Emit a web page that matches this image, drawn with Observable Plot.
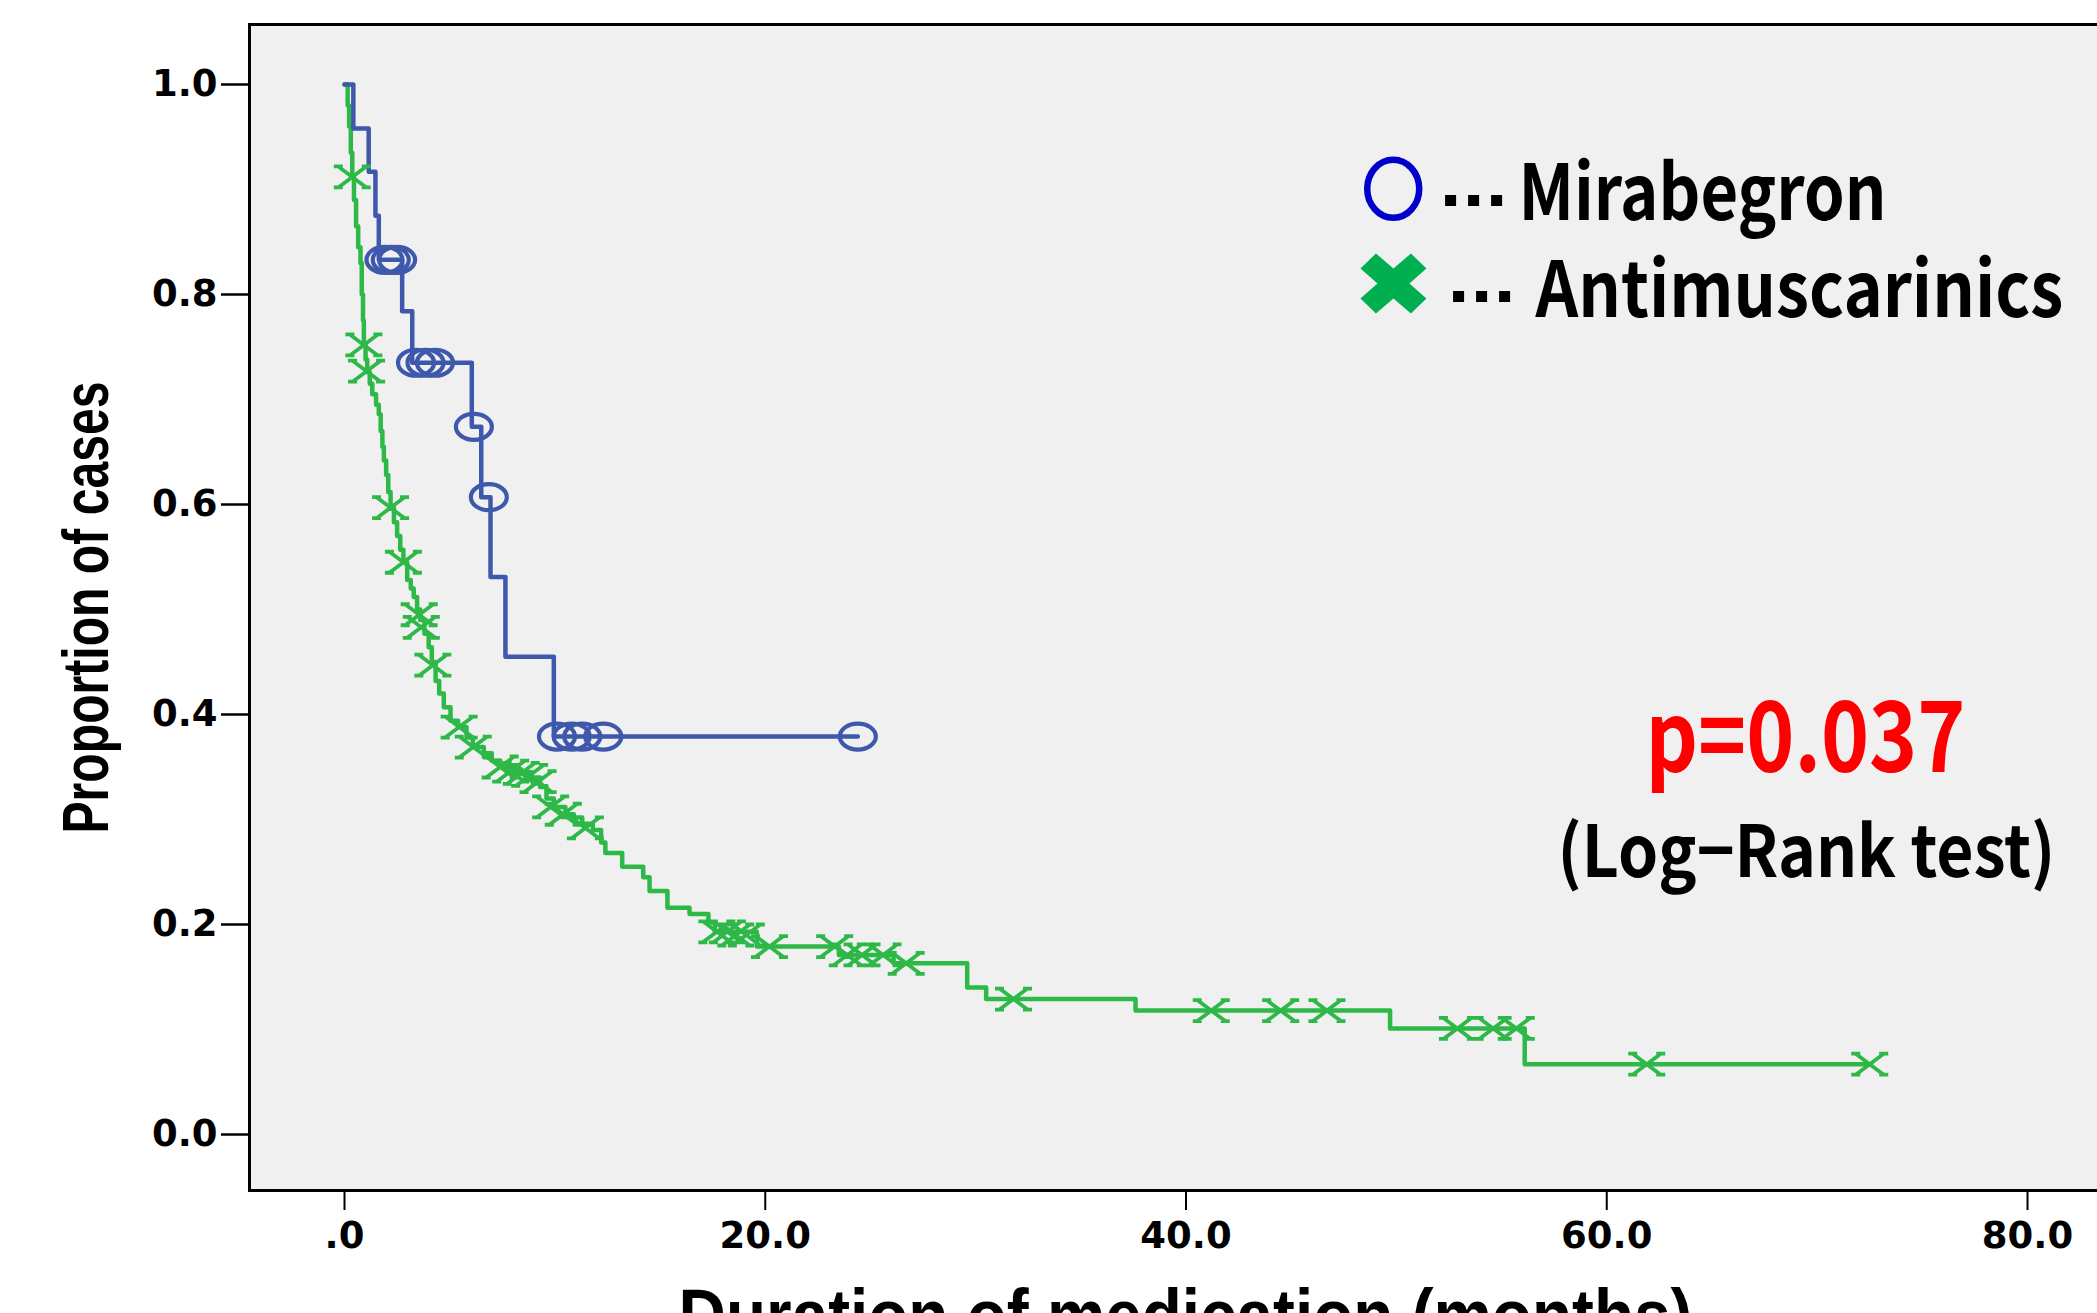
<!DOCTYPE html>
<html><head><meta charset="utf-8">
<script src="https://cdn.jsdelivr.net/npm/d3@7"></script>
<script src="https://cdn.jsdelivr.net/npm/@observablehq/plot@0.6"></script>
<style>
html,body{margin:0;padding:0;background:#fff;overflow:hidden;width:2097px;height:1313px;}
#chart svg{display:block;}
</style></head><body><div id="chart"></div>
<script>
// ---- Data ----
const seriesNames = ["Mirabegron", "Antimuscarinics"];
const seriesColors = ["#3e58ac", "#2eb848"];
const legendColors = ["#0000cc", "#00b050"];

// Mirabegron Kaplan-Meier steps (months, proportion)
const mirTime = [0, 0.42, 1.15, 1.47, 1.63, 2.74, 3.22, 6.05, 6.5, 6.94, 7.65, 9.95, 24.4];
const mirSurv = [1.0, 0.958, 0.917, 0.875, 0.833, 0.784, 0.735, 0.674, 0.607, 0.531, 0.455, 0.379, 0.379];
// Mirabegron censored cases
const mirCensorTime = [1.9, 2.2, 2.5, 3.4, 3.85, 4.3, 6.15, 6.86, 10.1, 10.8, 11.3, 12.3, 24.4];
const mirCensorSurv = [0.833, 0.833, 0.833, 0.735, 0.735, 0.735, 0.674, 0.607, 0.379, 0.379, 0.379, 0.379, 0.379];

// Antimuscarinics Kaplan-Meier steps (months, proportion)
const antTime = [0, 0.15, 0.22, 0.3, 0.37, 0.45, 0.55, 0.65, 0.76, 0.82, 0.88, 0.92, 1.0, 1.08, 1.2, 1.32, 1.5, 1.63,
  1.72, 1.8, 1.87, 1.98, 2.08, 2.19, 2.35, 2.5, 2.65, 2.8, 2.98, 3.15, 3.29, 3.45, 3.6, 3.8, 4.0, 4.15, 4.33, 4.5,
  4.72, 5.04, 5.4, 5.8, 6.1, 6.62, 7.0, 7.41, 8.0, 8.9, 9.3, 9.6, 9.95, 10.5, 10.9, 11.3, 11.8, 12.2, 12.4, 13.2,
  14.2, 14.5, 15.35, 16.4, 17.3, 17.6, 19.6, 23.5, 26.1, 29.6, 30.5, 37.6, 49.7, 56.1, 72.5];
const antSurv = [1.0, 0.98, 0.96, 0.935, 0.912, 0.89, 0.865, 0.845, 0.83, 0.80, 0.775, 0.752, 0.738, 0.726, 0.715, 0.705, 0.695, 0.686,
  0.67, 0.655, 0.642, 0.628, 0.612, 0.597, 0.583, 0.57, 0.557, 0.545, 0.528, 0.52, 0.512, 0.50, 0.49, 0.477, 0.464, 0.45, 0.432, 0.42,
  0.407, 0.394, 0.388, 0.378, 0.369, 0.363, 0.356, 0.35, 0.345, 0.34, 0.331, 0.32, 0.312, 0.305, 0.302, 0.296, 0.29, 0.278, 0.268, 0.255,
  0.245, 0.232, 0.216, 0.21, 0.202, 0.193, 0.179, 0.171, 0.163, 0.14, 0.129, 0.118, 0.101, 0.067, 0.067];
// Antimuscarinics censored cases
const antCensorTime = [0.37, 0.92, 1.05, 2.19, 2.8, 3.55, 3.65, 4.2, 5.45, 6.12, 7.4, 7.9, 8.4, 8.8, 9.2, 9.8, 10.4, 11.45,
  17.7, 18.2, 18.6, 19.1, 20.2, 23.3, 23.9, 24.6, 25.6, 26.7, 31.8, 41.2, 44.5, 46.7, 52.9, 54.6, 55.7, 61.9, 72.5];
const antCensorSurv = [0.912, 0.752, 0.727, 0.597, 0.545, 0.495, 0.483, 0.447, 0.388, 0.369, 0.35, 0.346, 0.344, 0.342, 0.336, 0.312, 0.305, 0.292,
  0.193, 0.193, 0.19, 0.19, 0.179, 0.179, 0.171, 0.171, 0.171, 0.163, 0.129, 0.118, 0.118, 0.118, 0.101, 0.101, 0.101, 0.067, 0.067];

const xTicks = [0, 20, 40, 60, 80];
const xTickLabels = [".0", "20.0", "40.0", "60.0", "80.0"];
const yTicks = [0, 0.2, 0.4, 0.6, 0.8, 1.0];
const yTickLabels = ["0.0", "0.2", "0.4", "0.6", "0.8", "1.0"];

const xTitle = "Duration of medication (months)";
const yTitle = "Proportion of cases";
const pText = "p=0.037";
const testText = "(Log\u2212Rank test)";

// ---- Build tables ----
const mir = mirTime.map((t, i) => ({t, s: mirSurv[i]}));
const ant = antTime.map((t, i) => ({t, s: antSurv[i]}));
const mirC = mirCensorTime.map((t, i) => ({t, s: mirCensorSurv[i]}));
const antC = antCensorTime.map((t, i) => ({t, s: antCensorSurv[i]}));
const xLab = new Map(xTicks.map((d, i) => [d, xTickLabels[i]]));
const yLab = new Map(yTicks.map((d, i) => [d, yTickLabels[i]]));

// ---- Symbols ----
const ellipse = (rx, ry) => ({draw(c) {
  const k = 0.5523;
  c.moveTo(rx, 0);
  c.bezierCurveTo(rx, k * ry, k * rx, ry, 0, ry);
  c.bezierCurveTo(-k * rx, ry, -rx, k * ry, -rx, 0);
  c.bezierCurveTo(-rx, -k * ry, -k * rx, -ry, 0, -ry);
  c.bezierCurveTo(k * rx, -ry, rx, -k * ry, rx, 0);
  c.closePath();
}});
const censorCross = {draw(c) {
  const w = 14, h = 10.5, s = 4.5;
  c.moveTo(-w, -h); c.lineTo(w, h);
  c.moveTo(-w, h); c.lineTo(w, -h);
  for (const [x, y] of [[-w, -h], [w, -h], [-w, h], [w, h]]) { c.moveTo(x - s, y); c.lineTo(x + s, y); }
}};
const heavyX = {draw(c) {
  const p = [[-33,-15],[-17.5,-30],[0,-15],[17.5,-30],[33,-15],[16,0],[33,15],[17.5,30],[0,15],[-17.5,30],[-33,15],[-16,0]];
  c.moveTo(p[0][0], p[0][1]);
  for (const q of p.slice(1)) c.lineTo(q[0], q[1]);
  c.closePath();
}};
// leader "･･･" between legend marker and label
const leaderDots = {draw(c) {
  const d = 11;
  for (const o of [-23, 0, 23]) c.rect(o - d / 2, -d / 2, d, d);
}};

const cjk = "'Noto Sans CJK JP', 'Noto Sans', sans-serif";

const chart = Plot.plot({
  width: 2110, height: 1370,
  marginLeft: 249, marginRight: 0, marginTop: 24, marginBottom: 180,
  x: {domain: [-4.516, 83.945], axis: null},
  y: {domain: [-0.05333, 1.05714], axis: null},
  style: {background: "transparent", color: "black", maxWidth: "none", overflow: "visible"},
  marks: [
    Plot.frame({fill: "#f0f0f0", stroke: "none"}),
    Plot.line(ant, {x: "t", y: "s", curve: "step-after", stroke: seriesColors[1], strokeWidth: 4.5}),
    Plot.line(mir, {x: "t", y: "s", curve: "step-after", stroke: seriesColors[0], strokeWidth: 4.5}),
    Plot.dot(antC, {x: "t", y: "s", symbol: censorCross, r: 10, fill: "none", stroke: seriesColors[1], strokeWidth: 3.8}),
    Plot.dot(mirC, {x: "t", y: "s", symbol: ellipse(18, 13), r: 10, fill: "none", stroke: seriesColors[0], strokeWidth: 4.2}),
    Plot.frame({stroke: "black", strokeWidth: 3}),
    Plot.axisX({ticks: xTicks, tickFormat: d => xLab.get(d), tickSize: 20, tickPadding: 11, strokeWidth: 2,
      fontSize: 37, fontWeight: "bold", fontFamily: "DejaVu Sans", label: null}),
    Plot.axisY({ticks: yTicks, tickFormat: d => yLab.get(d), tickSize: 28, tickPadding: 4, strokeWidth: 2.5,
      fontSize: 37, fontWeight: "bold", fontFamily: "DejaVu Sans", label: null}),
    // axis titles
    Plot.text([yTitle], {frameAnchor: "left", rotate: -90, dx: -142, textAnchor: "middle", lineAnchor: "bottom",
      fontSize: 65, fontWeight: "bold", fontFamily: "'Liberation Sans', Arial, sans-serif", fill: "black"}),
    Plot.text([xTitle], {frameAnchor: "bottom", dx: 5.5, dy: 150, textAnchor: "middle", lineAnchor: "bottom",
      fontSize: 74, fontWeight: "bold", fontFamily: "'Liberation Sans', Arial, sans-serif", fill: "black"}),
    // legend
    Plot.dot([0], {x: () => 49.85, y: () => 0.9007, symbol: ellipse(26, 29), fill: "none", stroke: legendColors[0], strokeWidth: 6.5}),
    Plot.dot([0], {x: () => 49.86, y: () => 0.8105, symbol: heavyX, fill: legendColors[1], stroke: "none"}),
    Plot.dot([0], {x: () => 53.67, y: () => 0.8895, symbol: leaderDots, fill: "black", stroke: "none"}),
    Plot.dot([0], {x: () => 54.05, y: () => 0.798, symbol: leaderDots, fill: "black", stroke: "none"}),
    Plot.text([seriesNames[0]], {x: () => 55.80, y: () => 0.8714, textAnchor: "start", lineAnchor: "bottom",
      fontSize: 77, fontWeight: "bold", fontFamily: cjk, fill: "black"}),
    Plot.text([seriesNames[1]], {x: () => 56.61, y: () => 0.779, textAnchor: "start", lineAnchor: "bottom",
      fontSize: 77, fontWeight: "bold", fontFamily: cjk, fill: "black"}),
    // statistics
    Plot.text([pText], {x: () => 61.84, y: () => 0.3457, textAnchor: "start", lineAnchor: "bottom",
      fontSize: 98, fontWeight: "bold", fontFamily: cjk, fill: "#ff0000"}),
    Plot.text([testText], {x: () => 57.66, y: () => 0.2448, textAnchor: "start", lineAnchor: "bottom",
      fontSize: 71, fontWeight: "bold", fontFamily: cjk, fill: "black"})
  ]
});
document.getElementById("chart").appendChild(chart);

// condense lettering to the reference widths (scale along the text direction)
const fit = new Map([[yTitle, 452], [xTitle, 1014], [seriesNames[0], 368], [seriesNames[1], 528],
  [pText, 320], [testText, 498]]);
d3.select(chart).selectAll("text").each(function() {
  const L = fit.get(this.textContent);
  if (!L) return;
  const natural = this.getComputedTextLength();
  if (!(natural > 0)) return;
  const sx = L / natural;
  const x = +this.getAttribute("x") || 0, y = +this.getAttribute("y") || 0;
  const t = this.getAttribute("transform") || "";
  this.setAttribute("transform", `${t} translate(${x},${y}) scale(${sx},1) translate(${-x},${-y})`);
});
</script></body></html>
